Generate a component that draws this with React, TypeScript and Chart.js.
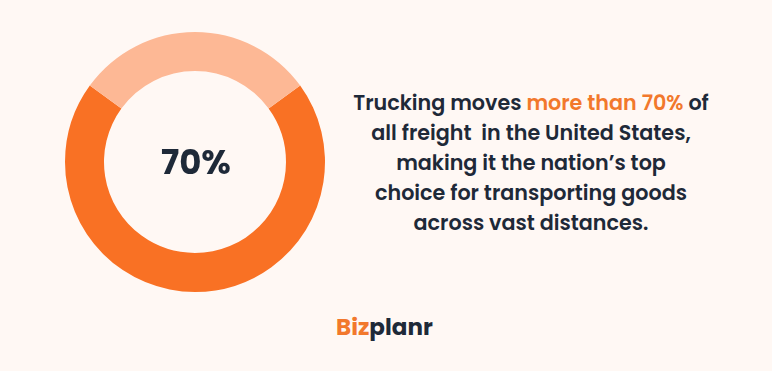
import React, { useEffect, useRef } from "react";
import { Chart, registerables } from "chart.js";

Chart.register(...registerables);

// Share of U.S. freight moved by trucks vs. everything else
const segmentLabels = ["Trucking", "Other modes"];
const segmentValues = [70, 30];
const segmentColors = ["#F97124", "#FDB895"];
const centerLabel = "70%";

const textDark = "#1E2938";
const accent = "#F2782C";
const fontStack = "Poppins, Inter, 'Noto Sans', sans-serif";

export default function App() {
  const canvasRef = useRef<HTMLCanvasElement | null>(null);

  useEffect(() => {
    document.body.style.margin = "0";
    const ctx = canvasRef.current;
    if (!ctx) return;
    const chart = new Chart(ctx, {
      type: "doughnut",
      data: {
        labels: segmentLabels,
        datasets: [
          {
            data: segmentValues,
            backgroundColor: segmentColors,
            borderWidth: 0,
          },
        ],
      },
      options: {
        responsive: false,
        animation: false,
        cutout: "70%",
        rotation: (segmentValues[1] / 2 / 100) * 360,
        layout: { padding: 5 },
        plugins: {
          legend: { display: false },
          tooltip: { enabled: false },
        },
      },
    });
    return () => chart.destroy();
  }, []);

  const lineStyle: React.CSSProperties = { whiteSpace: "pre" };

  return (
    <div
      style={{
        position: "fixed",
        left: 0,
        top: 0,
        width: 772,
        height: 371,
        background: "#FFF8F4",
        overflow: "hidden",
        fontFamily: fontStack,
      }}
    >
      <canvas
        ref={canvasRef}
        width={270}
        height={270}
        style={{ position: "absolute", left: 60, top: 27, width: 270, height: 270 }}
      />
      <div
        style={{
          position: "absolute",
          left: 146,
          width: 100,
          top: 141,
          textAlign: "center",
          fontSize: 34,
          fontWeight: 700,
          color: textDark,
          lineHeight: "42px",
        }}
      >
        {centerLabel}
      </div>
      <div
        style={{
          position: "absolute",
          left: 331,
          width: 400,
          top: 88,
          textAlign: "center",
          fontSize: 20.7,
          fontWeight: 600,
          color: textDark,
          lineHeight: "30px",
        }}
      >
        <div style={lineStyle}>
          Trucking moves <span style={{ color: accent }}>more than 70%</span> of
        </div>
        <div style={lineStyle}>all freight  in the United States,</div>
        <div style={lineStyle}>making it the nation’s top</div>
        <div style={lineStyle}>choice for transporting goods</div>
        <div style={lineStyle}>across vast distances.</div>
      </div>
      <div
        style={{
          position: "absolute",
          left: 336,
          top: 312,
          fontSize: 23,
          fontWeight: 700,
          lineHeight: "30px",
          color: textDark,
        }}
      >
        <span style={{ color: accent }}>Biz</span>planr
      </div>
    </div>
  );
}
